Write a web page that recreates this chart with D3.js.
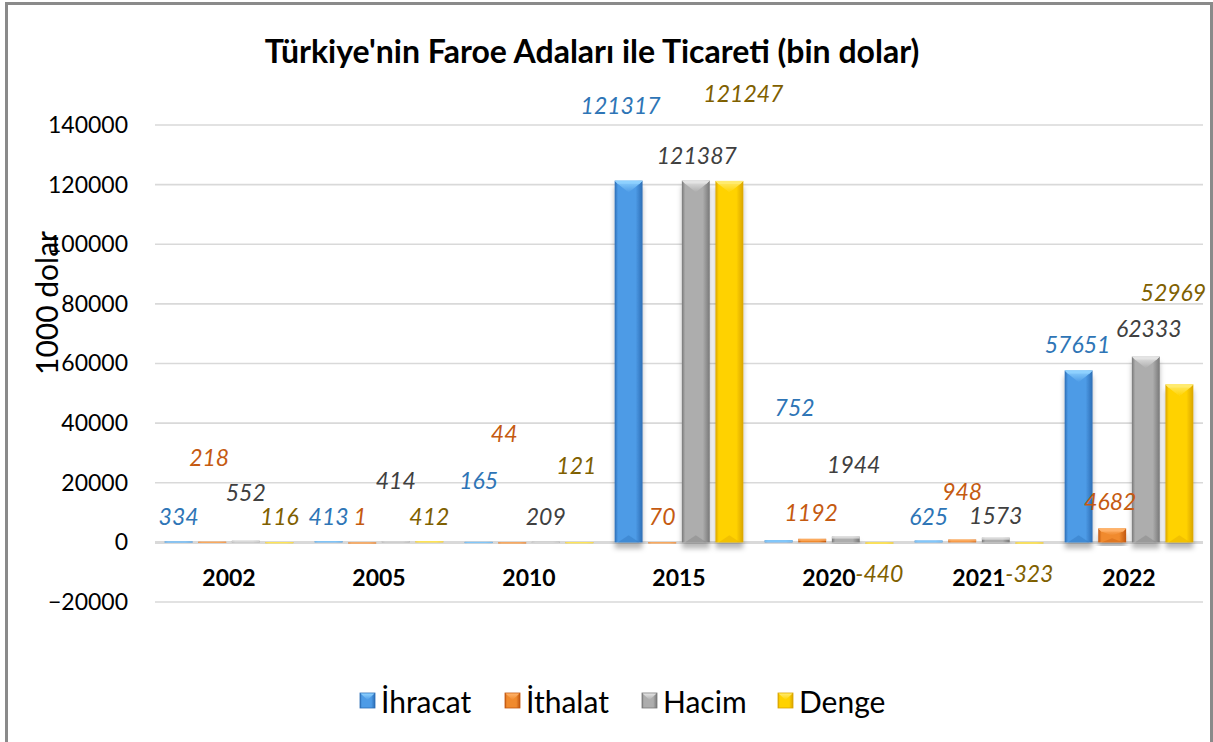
<!DOCTYPE html>
<html><head><meta charset="utf-8">
<script src="https://cdn.jsdelivr.net/npm/d3@7"></script>
<style>
html,body{margin:0;padding:0;background:#fff;}
svg{display:block;font-family:Lato, "Open Sans", sans-serif;}
</style></head>
<body>
<svg id="c" width="1213" height="742"></svg>
<script>
// ---- data ----
const years = ["2002","2005","2010","2015","2020","2021","2022"];
const seriesNames = ["İhracat","İthalat","Hacim","Denge"];
const ihracat = [334, 413, 165, 121317, 752, 625, 57651];
const ithalat = [218, 1, 44, 70, 1192, 948, 4682];
const hacim   = [552, 414, 209, 121387, 1944, 1573, 62333];
const denge   = [116, 412, 121, 121247, -440, -323, 52969];
const yTicks  = [-20000, 0, 20000, 40000, 60000, 80000, 100000, 120000, 140000];

// label anchors (value units) and x-shifts, as placed in the original chart
const labelAtIhracat = [8700, 8700, 20800, 146700, 45300, 8700, 66500];
const labelAtIthalat = [28500, 8700, 36600, 8700, 10100, 17200, 13800];
const labelAtHacim   = [16800, 20800, 8700, 129900, 26200, 9300, 71800];
const labelAtDenge   = [8700, 8700, 25900, 150700, -10400, -10400, 83900];
const shiftIhracat = [0, 0, 0, -8, 16, 0, -1];
const shiftIthalat = [-3, -2, -8, 0, -1, 0, -2];
const shiftHacim   = [0, 0, 0, 1, 8, 0, 3];
const shiftDenge   = [0, 0, -3, 14, 0, 0, -6];

const seriesValues = [ihracat, ithalat, hacim, denge];
const labelAt = [labelAtIhracat, labelAtIthalat, labelAtHacim, labelAtDenge];
const labelShift = [shiftIhracat, shiftIthalat, shiftHacim, shiftDenge];

// ---- styles ----
const pal = [
  {edge:"#2c6db5", mid:"#4d9be6", cap:"#8fd2ff", label:"#2E75B6"},
  {edge:"#c0560f", mid:"#f08a2e", cap:"#ffb36b", label:"#C55A11"},
  {edge:"#787878", mid:"#adadad", cap:"#e4e4e4", label:"#404040"},
  {edge:"#d9a400", mid:"#ffd200", cap:"#ffeb70", label:"#7F6000"}
];

const svg = d3.select("#c");
const W = 1213, H = 742;
const x0 = d3.scaleBand().domain(years).range([154, 1204]).paddingInner(0).paddingOuter(0);
const x1 = d3.scaleBand().domain(d3.range(4)).range([0, 130]).paddingInner(0.17).paddingOuter(0.02);
const y = d3.scaleLinear().domain([-20000, 140000]).range([602, 125]);

const defs = svg.append("defs");
pal.forEach((p,i)=>{
  const g = defs.append("linearGradient").attr("id","bg"+i).attr("x1","0").attr("x2","1").attr("y1","0").attr("y2","0");
  g.append("stop").attr("offset","0").attr("stop-color",p.edge);
  g.append("stop").attr("offset","0.12").attr("stop-color",p.mid);
  g.append("stop").attr("offset","0.75").attr("stop-color",p.mid);
  g.append("stop").attr("offset","1").attr("stop-color",p.edge);
  const c = defs.append("linearGradient").attr("id","cg"+i).attr("x1","0").attr("x2","0").attr("y1","0").attr("y2","1");
  c.append("stop").attr("offset","0").attr("stop-color",p.cap);
  c.append("stop").attr("offset","1").attr("stop-color",p.mid);
});
const f = defs.append("filter").attr("id","sh").attr("x","-30%").attr("y","-10%").attr("width","160%").attr("height","130%");
f.append("feDropShadow").attr("dx",0).attr("dy",6).attr("stdDeviation",2.5).attr("flood-color","#000").attr("flood-opacity",0.28);

// background + border
svg.append("rect").attr("x",0).attr("y",0).attr("width",W).attr("height",H).attr("fill","#fff");
svg.append("rect").attr("x",6.5).attr("y",3.5).attr("width",1205).attr("height",800)
  .attr("fill","none").attr("stroke","#8a8a8a").attr("stroke-width",3);

// title
svg.append("text").attr("x",592).attr("y",50).attr("text-anchor","middle").attr("dominant-baseline","central")
  .attr("font-size",32).attr("font-weight","bold").attr("fill","#000")
  .text("Türkiye'nin Faroe Adaları ile Ticareti (bin dolar)");

// gridlines
svg.append("g").selectAll("line").data(yTicks).join("line")
  .attr("x1",155).attr("x2",1203).attr("y1",d=>y(d)).attr("y2",d=>y(d))
  .attr("stroke","#d9d9d9").attr("stroke-width",d=>d===0?3:1.6);

// y axis
const yAxis = svg.append("g").attr("transform","translate(154,0)")
  .call(d3.axisLeft(y).tickValues(yTicks).tickSize(0).tickPadding(26).tickFormat(d3.format("d")));
yAxis.select(".domain").remove();
yAxis.selectAll("text").attr("font-size",23).attr("fill","#000").attr("font-family","Lato, 'Open Sans', sans-serif");

// y title
svg.append("text").attr("transform","translate(46,303) rotate(-90)").attr("text-anchor","middle")
  .attr("dominant-baseline","central").attr("font-size",30).attr("fill","#000").text("1000 dolar");

// bars
const gBars = svg.append("g");
years.forEach((yr, yi)=>{
  seriesValues.forEach((vals, si)=>{
    const v = vals[yi];
    const bx = x0(yr) + 10 + x1(si);
    const bw = x1.bandwidth();
    const top = Math.min(y(v), y(0));
    const bh = Math.max(Math.abs(y(v) - y(0)), 1.2);
    const g = gBars.append("g").attr("filter","url(#sh)");
    g.append("rect").attr("x",bx).attr("y",top).attr("width",bw).attr("height",bh)
      .attr("fill","url(#bg"+si+")");
    if (bh > 8) {
      const ch = Math.min(bw*0.42, bh/2);
      g.append("path").attr("d",`M${bx},${top}L${bx+bw},${top}L${bx+bw-3},${top+3}L${bx+bw/2},${top+ch}L${bx+3},${top+3}Z`)
        .attr("fill","url(#cg"+si+")");
      g.append("path").attr("d",`M${bx},${top}L${bx+bw},${top}L${bx+bw-3},${top+3}L${bx+3},${top+3}Z`)
        .attr("fill",pal[si].cap).attr("opacity",0.9);
      const bot = top+bh;
      g.append("path").attr("d",`M${bx+3},${bot}L${bx+bw/2},${bot-ch*0.6}L${bx+bw-3},${bot}Z`)
        .attr("fill",pal[si].edge).attr("opacity",0.35);
    } else {
      g.append("rect").attr("x",bx).attr("y",top).attr("width",bw).attr("height",Math.min(2,bh))
        .attr("fill",pal[si].cap).attr("opacity",0.8);
    }
  });
});

// data labels
const gLab = svg.append("g");
years.forEach((yr, yi)=>{
  seriesValues.forEach((vals, si)=>{
    const cx = x0(yr) + 10 + x1(si) + x1.bandwidth()/2 + labelShift[si][yi];
    gLab.append("text").attr("x",cx).attr("y",y(labelAt[si][yi]))
      .attr("text-anchor","middle").attr("dominant-baseline","central")
      .attr("font-size",23).attr("font-style","italic").attr("fill",pal[si].label)
      .text(vals[yi]);
  });
});

// category labels
svg.append("g").selectAll("text").data(years).join("text")
  .attr("x",d=>x0(d)+x0.bandwidth()/2).attr("y",y(0)+35)
  .attr("text-anchor","middle").attr("dominant-baseline","central")
  .attr("font-size",23).attr("font-weight","bold").attr("fill","#000").text(d=>d);

// legend
const legX = [360, 505, 642, 778];
const leg = svg.append("g");
seriesNames.forEach((n,i)=>{
  const g = leg.append("g").attr("transform",`translate(${legX[i]},693)`);
  g.append("rect").attr("width",15).attr("height",15).attr("fill","url(#bg"+i+")").attr("stroke",pal[i].edge).attr("stroke-width",0.8);
  g.append("path").attr("d","M0.5,0.5L14.5,0.5L7.5,7Z").attr("fill","url(#cg"+i+")");
  g.append("text").attr("x",21).attr("y",8).attr("dominant-baseline","central")
    .attr("font-size",30).attr("fill","#000").text(n);
});
</script>
</body></html>
